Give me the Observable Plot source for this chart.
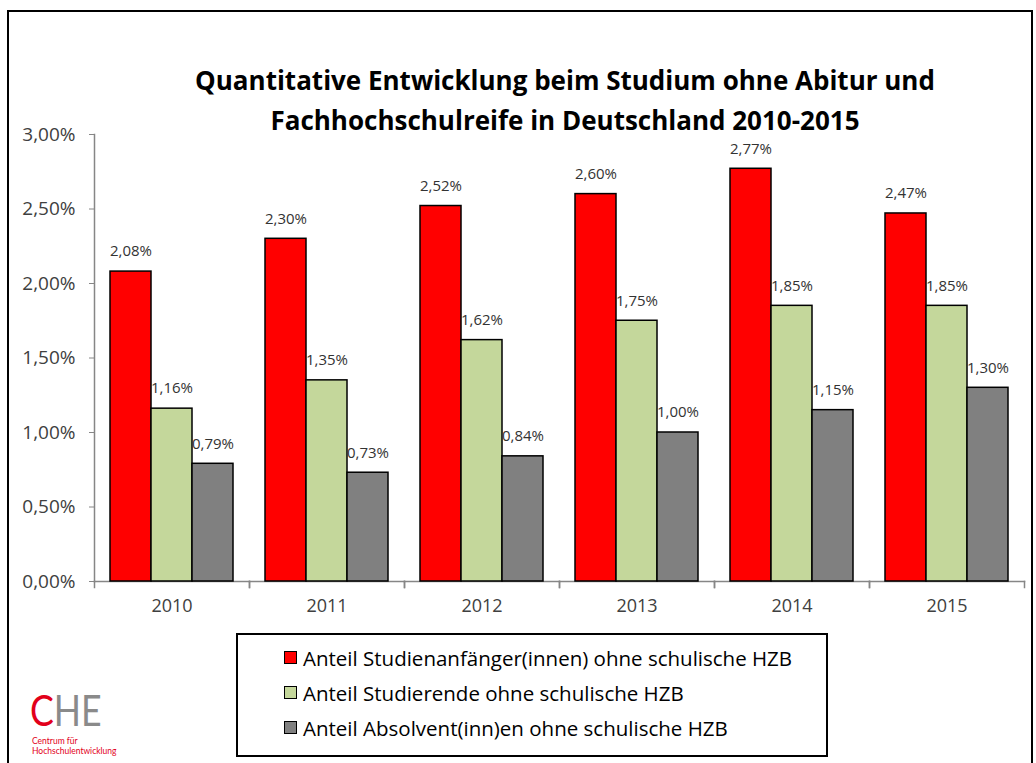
<!DOCTYPE html>
<html><head><meta charset="utf-8">
<script src="https://cdn.jsdelivr.net/npm/d3@7"></script>
<script src="https://cdn.jsdelivr.net/npm/@observablehq/plot@0.6"></script>
<style>
body{margin:0;background:#fff;font-family:"Open Sans",Lato,sans-serif;}
#wrap{position:relative;width:1036px;height:763px;overflow:hidden;background:#fff;}
#border{position:absolute;left:7px;top:10px;width:1026px;height:800px;border:2px solid #000;box-sizing:border-box;}
#title{position:absolute;left:100px;width:930px;top:60px;text-align:center;font-weight:bold;font-size:26px;line-height:40px;color:#000;}
#chart{position:absolute;left:0;top:0;}
#legend{position:absolute;left:236px;top:633px;width:592px;height:124px;border:2px solid #000;box-sizing:border-box;padding-top:5px;}
.row{display:flex;align-items:center;height:35px;padding-left:46px;font-size:20.5px;color:#000;}
.sw{width:11px;height:11px;border:1.5px solid #000;margin-right:6px;flex:none;}
#che{position:absolute;left:30px;top:689px;font-family:Lato,sans-serif;font-size:42px;line-height:42px;white-space:nowrap;transform:scaleX(0.85);transform-origin:left center;}
#chesub{position:absolute;left:32px;top:736px;font-family:Lato,sans-serif;font-size:8.5px;line-height:10px;color:#e2001a;white-space:nowrap;}
</style>
</head><body>
<div id="wrap">
  <div id="border"></div>
  <div id="title"></div>
  <div id="chart"></div>
  <div id="legend"></div>
  <div id="che"><span style="color:#e2001a">C</span><span style="color:#8a8a8a">HE</span></div>
  <div id="chesub">Centrum für<br>Hochschulentwicklung</div>
</div>
<script>
const titleLines = ["Quantitative Entwicklung beim Studium ohne Abitur und", "Fachhochschulreife in Deutschland 2010-2015"];
const years = ["2010","2011","2012","2013","2014","2015"];
const seriesNames = [
  "Anteil Studienanfänger(innen) ohne schulische HZB",
  "Anteil Studierende ohne schulische HZB",
  "Anteil Absolvent(inn)en ohne schulische HZB"
];
const anfaenger   = [2.08, 2.30, 2.52, 2.60, 2.77, 2.47];
const studierende = [1.16, 1.35, 1.62, 1.75, 1.85, 1.85];
const absolventen = [0.79, 0.73, 0.84, 1.00, 1.15, 1.30];
const colors = ["#ff0000", "#c4d79b", "#808080"];
const yTicks = [0, 0.5, 1, 1.5, 2, 2.5, 3];

const seriesValues = [anfaenger, studierende, absolventen];
const data = [];
years.forEach((yr, i) => seriesNames.forEach((s, j) => data.push({year: yr, series: s, value: seriesValues[j][i]})));

const loc = d3.formatLocale({decimal: ",", thousands: ".", grouping: [3], currency: ["", "€"]});
const f2 = loc.format(".2f");
const pct = v => f2(v) + "%";

document.getElementById("title").innerHTML = titleLines.join("<br>");

const axisColor = "#868686";
const plot = Plot.plot({
  width: 1036, height: 630,
  marginLeft: 94, marginRight: 12, marginTop: 134, marginBottom: 49,
  style: {fontFamily: "'Open Sans', sans-serif", background: "transparent", overflow: "visible"},
  fx: {domain: years, paddingInner: 0, paddingOuter: 0, label: null},
  x: {domain: seriesNames, paddingInner: 0, paddingOuter: 0.37, axis: null},
  y: {domain: [0, 3], label: null},
  color: {domain: seriesNames, range: colors},
  marks: [
    Plot.frame({anchor: "bottom", stroke: axisColor, strokeWidth: 1.5}),
    Plot.frame({anchor: "left", stroke: axisColor, strokeWidth: 1.5, insetTop: 447, insetBottom: -6}),
    Plot.frame({anchor: "right", stroke: axisColor, strokeWidth: 1.5, insetTop: 447, insetBottom: -6}),
    Plot.frame({anchor: "left", facetAnchor: "left", stroke: axisColor, strokeWidth: 1.5}),
    Plot.axisY({ticks: yTicks, tickFormat: pct, tickSize: 5, tickPadding: 14, fontSize: 19, stroke: axisColor, fill: "#404040", label: null}),
    Plot.axisFx({anchor: "bottom", tickSize: 0, tickPadding: 18, fontSize: 18, fill: "#404040", label: null}),
    Plot.barY(data, {fx: "year", x: "series", y: "value", fill: "series", stroke: "#000", strokeWidth: 1.5}),
    Plot.text(data, {fx: "year", x: "series", y: "value", text: d => pct(d.value), dy: -20, fontSize: 15, fill: "#333"})
  ]
});
document.getElementById("chart").appendChild(plot);

const legend = document.getElementById("legend");
seriesNames.forEach((s, j) => {
  const row = document.createElement("div");
  row.className = "row";
  const sw = document.createElement("div");
  sw.className = "sw";
  sw.style.background = colors[j];
  const t = document.createElement("span");
  t.textContent = s;
  row.appendChild(sw); row.appendChild(t);
  legend.appendChild(row);
});
</script>
</body></html>
